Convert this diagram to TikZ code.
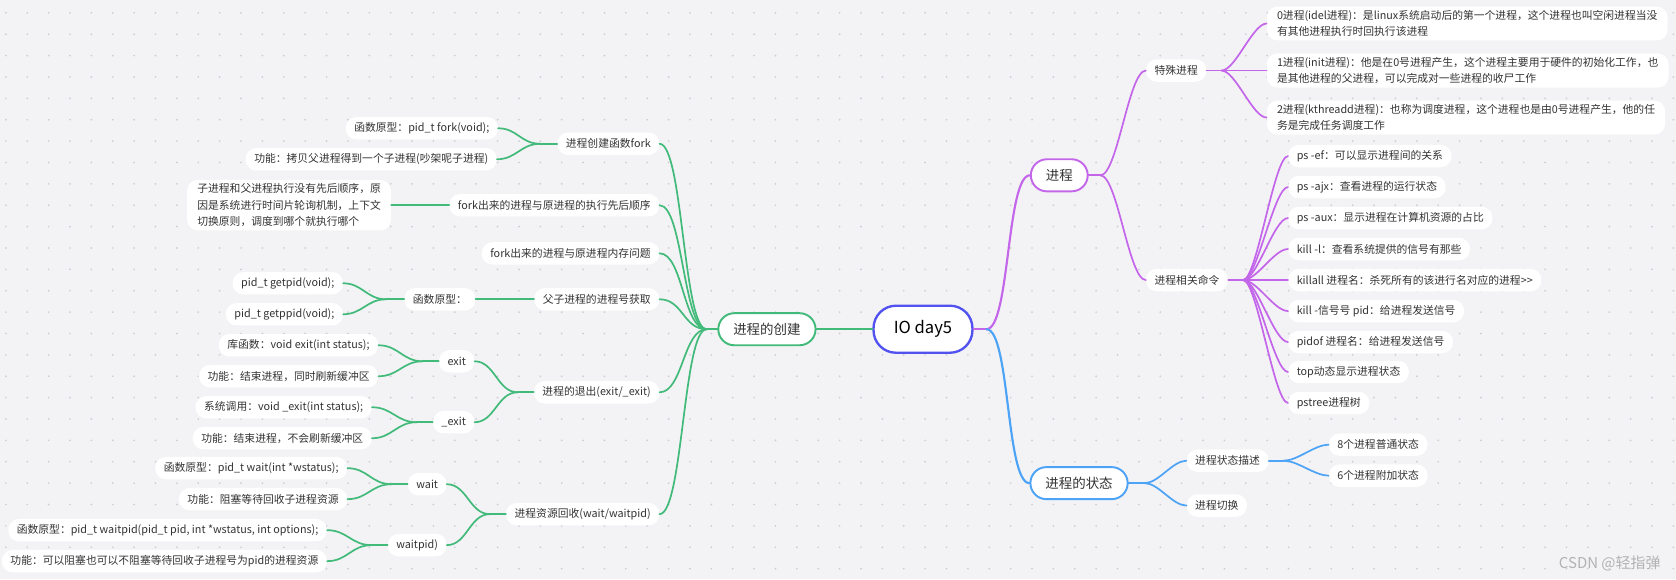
\documentclass[tikz,border=0pt]{standalone}
\usepackage{fontspec}
\setmainfont{Noto Sans CJK SC}
\usetikzlibrary{calc}
\definecolor{bg}{RGB}{243,243,246}
\definecolor{dotc}{RGB}{204,204,210}
\definecolor{txt}{RGB}{51,51,51}
\definecolor{gcol}{RGB}{66,186,122}
\definecolor{pcol}{RGB}{196,102,234}
\definecolor{bcol}{RGB}{77,163,245}
\definecolor{rootc}{RGB}{82,82,240}
\definecolor{wmark}{RGB}{178,178,178}
\newcommand\lk[4]{\draw[#1] (#2) .. controls +(#4,0) and +({-(#4)},0) .. (#3);}
\begin{document}
\begin{tikzpicture}[x=1pt,y=-1pt,
  leaf/.style={fill=white, rounded corners=10pt, inner xsep=8pt, inner ysep=0pt,
    minimum height=21pt, text=txt, font=\fontsize{10.1}{15.3}\selectfont},
  multi/.style={leaf, align=left, inner xsep=9.5pt, inner ysep=3.5pt},
  mainnode/.style={fill=white, draw=#1, line width=1.8pt, rounded corners=15pt,
    minimum height=30pt, inner xsep=14pt, inner ysep=0pt, text=txt,
    font=\fontsize{12.6}{15}\selectfont},
  rootnode/.style={fill=white, draw=rootc, line width=2.2pt, rounded corners=21pt,
    minimum height=44pt, inner xsep=19pt, inner ysep=0pt, text=black,
    font=\fontsize{15.5}{18}\selectfont},
  gline/.style={gcol, line width=1.6pt, line cap=round},
  pline/.style={pcol, line width=1.6pt, line cap=round},
  bline/.style={bcol, line width=1.6pt, line cap=round},
  gmain/.style={gcol, line width=2pt, line cap=round},
  pmain/.style={pcol, line width=2pt, line cap=round},
  bmain/.style={bcol, line width=2pt, line cap=round}]
\useasboundingbox (0,0) rectangle (1568,542);
\fill[bg] (0,0) rectangle (1568,542);
\foreach \i in {0,...,78} {\foreach \j in {0,...,26} {\fill[dotc] (5.5+20*\i,12+20*\j) circle (0.9pt);}}

% ---------- root and main branches
\node[rootnode] (root) at (863.5,308) {IO day5};
\node[mainnode=gcol] (create) at (717.5,308) {进程的创建};
\node[mainnode=pcol] (proc) at (991,164) {进程};
\node[mainnode=bcol] (state) at (1009.5,452) {进程的状态};

% ---------- left side (green)
\node[leaf, anchor=east] (fork) at (617,134.5) {进程创建函数fork};
\node[leaf, anchor=east] (order) at (617,192) {fork出来的进程与原进程的执行先后顺序};
\node[leaf, anchor=east] (mem) at (617,237) {fork出来的进程与原进程内存问题};
\node[leaf, anchor=east] (pid) at (617,280) {父子进程的进程号获取};
\node[leaf, anchor=east] (exitq) at (617,367) {进程的退出(exit/\_exit)};
\node[leaf, anchor=east] (waitq) at (617,481) {进程资源回收(wait/waitpid)};

\node[leaf, anchor=east] (fork1) at (466,120) {函数原型：pid\_t fork(void);};
\node[leaf, anchor=east] (fork2) at (465,149) {功能：拷贝父进程得到一个子进程(吵架呢子进程)};
\node[multi, anchor=east] (order1) at (366,192) {子进程和父进程执行没有先后顺序，原\\因是系统进行时间片轮询机制，上下文\\切换原则，调度到哪个就执行哪个};
\node[leaf, anchor=east] (proto) at (445,280) {函数原型：};
\node[leaf, anchor=east] (exitn) at (444,338) {exit};
\node[leaf, anchor=east] (uexit) at (444,395) {\_exit};
\node[leaf, anchor=east] (waitn) at (418,453) {wait};
\node[leaf, anchor=east] (waitp) at (418,510) {waitpid)};

\node[leaf, anchor=east] (gp) at (321,265) {pid\_t getpid(void);};
\node[leaf, anchor=east] (gpp) at (321,294) {pid\_t getppid(void);};
\node[leaf, anchor=east] (ex1) at (354,323) {库函数：void exit(int status);};
\node[leaf, anchor=east] (ex2) at (354,352) {功能：结束进程，同时刷新缓冲区};
\node[leaf, anchor=east] (ue1) at (348,381) {系统调用：void \_exit(int status);};
\node[leaf, anchor=east] (ue2) at (348,410) {功能：结束进程，不会刷新缓冲区};
\node[leaf, anchor=east] (w1) at (325,438) {函数原型：pid\_t wait(int *wstatus);};
\node[leaf, anchor=east] (w2) at (325,467) {功能：阻塞等待回收子进程资源};
\node[leaf, anchor=east] (wp1) at (306,496) {函数原型：pid\_t waitpid(pid\_t pid, int *wstatus, int options);};
\node[leaf, anchor=east] (wp2) at (306,525) {功能：可以阻塞也可以不阻塞等待回收子进程号为pid的进程资源};

% ---------- right side (purple)
\node[leaf, anchor=west] (special) at (1072,66) {特殊进程};
\node[leaf, anchor=west] (cmds) at (1072,262) {进程相关命令};
\node[multi, anchor=west] (p0) at (1185,22) {0进程(idel进程)：是linux系统启动后的第一个进程，这个进程也叫空闲进程当没\\有其他进程执行时回执行该进程};
\node[multi, anchor=west] (p1) at (1185,66) {1进程(init进程)：他是在0号进程产生，这个进程主要用于硬件的初始化工作，也\\是其他进程的父进程，可以完成对一些进程的收尸工作};
\node[multi, anchor=west] (p2) at (1185,110) {2进程(kthreadd进程)：也称为调度进程，这个进程也是由0号进程产生，他的任\\务是完成任务调度工作};
\node[leaf, anchor=west] (c1) at (1205,146) {ps -ef：可以显示进程间的关系};
\node[leaf, anchor=west] (c2) at (1205,175) {ps -ajx：查看进程的运行状态};
\node[leaf, anchor=west] (c3) at (1205,204) {ps -aux：显示进程在计算机资源的占比};
\node[leaf, anchor=west] (c4) at (1205,233) {kill -l：查看系统提供的信号有那些};
\node[leaf, anchor=west] (c5) at (1205,262) {killall 进程名：杀死所有的该进行名对应的进程>{}>};
\node[leaf, anchor=west] (c6) at (1205,291) {kill -信号号 pid：给进程发送信号};
\node[leaf, anchor=west] (c7) at (1205,320) {pidof 进程名：给进程发送信号};
\node[leaf, anchor=west] (c8) at (1205,348) {top动态显示进程状态};
\node[leaf, anchor=west] (c9) at (1205,377) {pstree进程树};

% ---------- right side (blue)
\node[leaf, anchor=west] (sdesc) at (1110,431) {进程状态描述};
\node[leaf, anchor=west] (switch) at (1110,473) {进程切换};
\node[leaf, anchor=west] (s8) at (1243,416) {8个进程普通状态};
\node[leaf, anchor=west] (s6) at (1243,445) {6个进程附加状态};

\node[text=wmark, font=\fontsize{14}{16}\selectfont] (wm) at (1506,527) {CSDN @轻指弹};

% ---------- junctions
\coordinate (Jroot) at ($(root.east)+(12,0)$);
\coordinate (Jcreate) at ($(create.west)+(-10,0)$);
\coordinate (Jfork) at ($(fork.west)+(-16,0)$);
\coordinate (Jproto) at ($(proto.west)+(-17,0)$);
\coordinate (Jexitq) at ($(exitq.west)+(-15,0)$);
\coordinate (Jexit) at ($(exitn.west)+(-15,0)$);
\coordinate (Juexit) at ($(uexit.west)+(-15,0)$);
\coordinate (Jwaitq) at ($(waitq.west)+(-15,0)$);
\coordinate (Jwait) at ($(waitn.west)+(-15,0)$);
\coordinate (Jwaitp) at ($(waitp.west)+(-15,0)$);
\coordinate (Jproc) at ($(proc.east)+(11,0)$);
\coordinate (Jspecial) at ($(special.east)+(14,0)$);
\coordinate (Jcmds) at ($(cmds.east)+(14,0)$);
\coordinate (Jstate) at ($(state.east)+(15,0)$);
\coordinate (Jsdesc) at ($(sdesc.east)+(14,0)$);

% ---------- connectors: root level
\draw[gmain] (root.west) -- (create.east);
\draw[pmain] (root.east) -- (Jroot);
\lk{pmain}{Jroot}{proc.west}{22}
\lk{bmain}{Jroot}{state.west}{22}

% green
\draw[gline] (create.west) -- (Jcreate);
\foreach \n in {fork,order,mem,pid,exitq,waitq} {\lk{gline}{Jcreate}{\n.east}{-22}}
\draw[gline] (fork.west) -- (Jfork);
\lk{gline}{Jfork}{fork1.east}{-18}
\lk{gline}{Jfork}{fork2.east}{-18}
\draw[gline] (order.west) -- (order1.east);
\draw[gline] (pid.west) -- (proto.east);
\draw[gline] (proto.west) -- (Jproto);
\lk{gline}{Jproto}{gp.east}{-18}
\lk{gline}{Jproto}{gpp.east}{-18}
\draw[gline] (exitq.west) -- (Jexitq);
\lk{gline}{Jexitq}{exitn.east}{-19}
\lk{gline}{Jexitq}{uexit.east}{-19}
\draw[gline] (exitn.west) -- (Jexit);
\lk{gline}{Jexit}{ex1.east}{-19}
\lk{gline}{Jexit}{ex2.east}{-19}
\draw[gline] (uexit.west) -- (Juexit);
\lk{gline}{Juexit}{ue1.east}{-19}
\lk{gline}{Juexit}{ue2.east}{-19}
\draw[gline] (waitq.west) -- (Jwaitq);
\lk{gline}{Jwaitq}{waitn.east}{-19}
\lk{gline}{Jwaitq}{waitp.east}{-19}
\draw[gline] (waitn.west) -- (Jwait);
\lk{gline}{Jwait}{w1.east}{-19}
\lk{gline}{Jwait}{w2.east}{-19}
\draw[gline] (waitp.west) -- (Jwaitp);
\lk{gline}{Jwaitp}{wp1.east}{-19}
\lk{gline}{Jwaitp}{wp2.east}{-19}

% purple
\draw[pline] (proc.east) -- (Jproc);
\lk{pline}{Jproc}{special.west}{16}
\lk{pline}{Jproc}{cmds.west}{16}
\draw[pline] (special.east) -- (Jspecial);
\foreach \n in {p0,p1,p2} {\lk{pline}{Jspecial}{\n.west}{13}}
\draw[pline] (cmds.east) -- (Jcmds);
\foreach \n in {1,...,9} {\lk{pline}{Jcmds}{c\n.west}{13}}

% blue
\draw[bline] (state.east) -- (Jstate);
\lk{bline}{Jstate}{sdesc.west}{13}
\lk{bline}{Jstate}{switch.west}{13}
\draw[bline] (sdesc.east) -- (Jsdesc);
\lk{bline}{Jsdesc}{s8.west}{13}
\lk{bline}{Jsdesc}{s6.west}{13}
\end{tikzpicture}
\end{document}
